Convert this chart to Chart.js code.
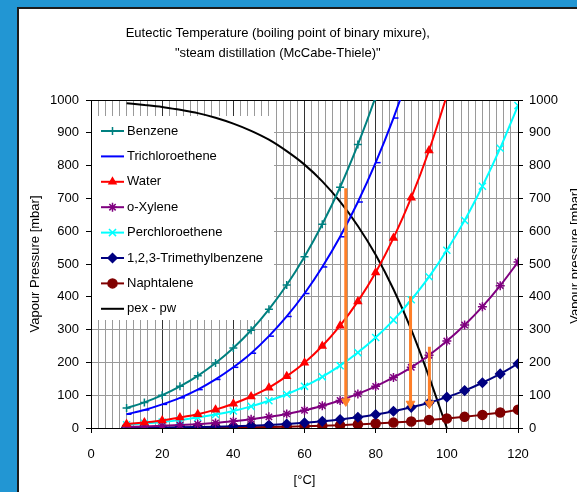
<!DOCTYPE html>
<html>
<head>
<meta charset="utf-8">
<script src="https://cdn.jsdelivr.net/npm/chart.js@4"></script>
<style>
  html, body { margin: 0; padding: 0; overflow: hidden; background: #2296d3; width: 577px; height: 492px; }
  #panel { position: absolute; left: 17px; top: 7px; width: 600px; height: 500px; background: #fff;
           border-left: 2px solid #1c1c1c; border-top: 2px solid #1c1c1c; }
  #myChart { position: absolute; left: -28px; top: 0; }
</style>
</head>
<body>
<div id="panel"></div>
<canvas id="myChart" width="620" height="492"></canvas>
<script>
// temperature [°C], one reading every 5 degrees
var temps = [10, 15, 20, 25, 30, 35, 40, 45, 50, 55, 60, 65, 70, 75, 80, 85, 90, 95, 100, 105, 110, 115, 120];

// vapour pressures [mbar]
var benzene = [61, 78, 100, 127, 159, 198, 244, 298, 362, 436, 522, 621, 734, 864, 1010, 1175];
var trichloroethene = [42, 55, 72, 92, 117, 148, 185, 228, 280, 340, 410, 491, 583, 689, 809, 945, 1097];
var water = [12, 17, 23, 32, 42, 56, 74, 96, 123, 158, 199, 250, 312, 386, 474, 579, 702, 846, 1013];
var oXylene = [3.4, 4.7, 6.5, 8.8, 11.8, 15.6, 20.5, 26.5, 34, 43, 54, 68, 84, 104, 127, 154, 185, 222, 265, 314, 370, 434, 506];
var perchloroethene = [10, 14, 18, 24, 32, 41, 52, 66, 83, 103, 127, 156, 190, 230, 276, 329, 391, 461, 542, 633, 737, 853, 983];
var trimethylbenzene = [0.7, 1.0, 1.4, 2.0, 2.8, 3.8, 5.2, 7.0, 9.2, 12.1, 15.8, 20.3, 25.9, 32.7, 41, 51, 63, 77, 94, 114, 138, 165, 196];
var naphtalene = [0.1, 0.2, 0.3, 0.5, 0.7, 1.1, 1.5, 2.1, 2.9, 3.9, 5.1, 6.7, 8.6, 11, 13.5, 16.5, 20, 24.5, 29, 34, 40, 47, 56];
var pexMinusPw = [990, 985, 979, 970, 960, 946, 928, 906, 879, 844, 803, 752, 690, 616, 528, 423, 300, 156, 0];

// orange arrows (eutectic points)
var arrowX = [71.6, 89.8, 95.1];
var arrowTop = [731, 402, 248];
var arrowBottom = [81, 74, 74];

function pts(values) {
  return values.map(function (v, i) { return { x: temps[i], y: v }; });
}

function series(label, values, color, style, radius, filled) {
  return {
    label: label,
    data: pts(values),
    borderColor: color,
    backgroundColor: filled ? color : 'rgba(0,0,0,0)',
    borderWidth: 2,
    pointStyle: style,
    pointRadius: radius,
    pointBorderWidth: 1.5,
    pointBorderColor: color,
    pointBackgroundColor: filled ? color : 'rgba(0,0,0,0)',
    cubicInterpolationMode: 'monotone',
    fill: false
  };
}

function arrow(i) {
  return {
    label: 'arrow',
    noLegend: true,
    data: [{ x: arrowX[i], y: arrowTop[i] }, { x: arrowX[i], y: arrowBottom[i] }],
    borderColor: '#ff7f27',
    backgroundColor: '#ff7f27',
    borderWidth: 3,
    pointStyle: 'triangle',
    pointRadius: [0, 5],
    pointRotation: 180,
    pointBorderWidth: 1,
    pointBorderColor: '#ff7f27',
    pointBackgroundColor: '#ff7f27',
    tension: 0
  };
}

Chart.defaults.font.family = 'Arial, "Liberation Sans", sans-serif';
Chart.defaults.font.size = 13;
Chart.defaults.color = '#000';

// legend drawn as a white box inside the plot, like the spreadsheet one
var legendBox = {
  id: 'legendBox',
  beforeDatasetsDraw: function (chart) {
    var ctx = chart.ctx;
    var left = chart.chartArea.left;
    ctx.save();
    ctx.fillStyle = '#fff';
    ctx.fillRect(left + 1, 116, 182, 204);
    var y = 131;
    chart.data.datasets.forEach(function (ds) {
      if (ds.noLegend) return;
      ctx.strokeStyle = ds.borderColor;
      ctx.lineWidth = 2;
      ctx.beginPath();
      ctx.moveTo(left + 10, y);
      ctx.lineTo(left + 33, y);
      ctx.stroke();
      if (ds.pointRadius > 0 && ds.pointStyle !== 'dash') {
        ctx.fillStyle = ds.pointBackgroundColor;
        ctx.strokeStyle = ds.pointBorderColor;
        ctx.lineWidth = 1.5;
        Chart.helpers.drawPoint(ctx, { pointStyle: ds.pointStyle, radius: ds.pointRadius, rotation: 0, borderWidth: 1.5 }, left + 21.5, y);
      }
      ctx.fillStyle = '#000';
      ctx.font = '13px Arial, "Liberation Sans", sans-serif';
      ctx.textBaseline = 'middle';
      ctx.textAlign = 'left';
      ctx.fillText(ds.label, left + 36, y);
      y += 25.4;
    });
    ctx.restore();
  }
};

// right axis title reads bottom-to-top, as in the spreadsheet, and runs off the page edge
var rightTitle = {
  id: 'rightTitle',
  afterDraw: function (chart) {
    var ctx = chart.ctx;
    var s = chart.scales.y2;
    ctx.save();
    ctx.translate(s.right - 8.5, (chart.chartArea.top + chart.chartArea.bottom) / 2 - 8);
    ctx.rotate(-Math.PI / 2);
    ctx.fillStyle = '#000';
    ctx.font = '13px Arial, "Liberation Sans", sans-serif';
    ctx.textAlign = 'center';
    ctx.textBaseline = 'middle';
    ctx.fillText('Vapour pressure [mbar]', 0, 0);
    ctx.restore();
  }
};

var plainTick = function (v) { return String(v); };

var ctx = document.getElementById('myChart');
var myChart = new Chart(ctx, {
  type: 'line',
  data: {
    // Chart.js paints the first dataset last, so the arrows go first to sit on top
    datasets: [
      arrow(0),
      arrow(1),
      arrow(2),
      series('Benzene', benzene, '#008080', 'cross', 4, false),
      series('Trichloroethene', trichloroethene, '#0000ff', 'dash', 5, false),
      series('Water', water, '#ff0000', 'triangle', 4, true),
      series('o-Xylene', oXylene, '#800080', 'star', 4.5, false),
      series('Perchloroethene', perchloroethene, '#00ffff', 'crossRot', 5, false),
      series('1,2,3-Trimethylbenzene', trimethylbenzene, '#000080', 'rectRot', 4.5, true),
      series('Naphtalene', naphtalene, '#800000', 'circle', 4.5, true),
      series('pex - pw', pexMinusPw, '#000000', 'circle', 0, false)
    ]
  },
  options: {
    responsive: false,
    animation: false,
    devicePixelRatio: 1,
    layout: {
      padding: { left: 0, right: 8.5, top: 0, bottom: 0 }
    },
    plugins: {
      legend: { display: false },
      tooltip: { enabled: false },
      title: {
        display: true,
        text: ['Eutectic Temperature (boiling point of binary mixure),', '"steam distillation (McCabe-Thiele)"'],
        font: { size: 13, weight: 'normal', lineHeight: '20px' },
        color: '#000',
        padding: { top: 23.3, bottom: 36.7 }
      }
    },
    scales: {
      x: {
        type: 'linear',
        min: 0,
        max: 120,
        ticks: {
          stepSize: 2,
          autoSkip: false,
          maxRotation: 0,
          padding: 14,
          callback: function (v) { return v % 20 === 0 ? String(v) : ''; }
        },
        grid: {
          color: function (c) { return c.tick && c.tick.value % 20 === 0 ? '#333' : '#9a9a9a'; },
          tickColor: function (c) { return c.tick && c.tick.value % 20 === 0 ? '#000' : 'rgba(0,0,0,0)'; },
          tickLength: 5
        },
        border: { color: '#000', width: 1 },
        title: { display: true, text: '[°C]', padding: { top: 0, bottom: 4 } },
        afterFit: function (scale) { scale.height = 64; }
      },
      y: {
        position: 'left',
        min: 0,
        max: 1000,
        ticks: { stepSize: 100, padding: 7, callback: plainTick },
        grid: {
          color: function (c) { return c.tick && c.tick.value === 1000 ? '#000' : '#9a9a9a'; },
          tickColor: '#000',
          tickLength: 5
        },
        border: { color: '#000', width: 1 },
        title: { display: true, text: 'Vapour Pressure [mbar]', padding: { top: 55.2, bottom: 0 } },
        afterFit: function (scale) { scale.width = 119; }
      },
      y2: {
        position: 'right',
        min: 0,
        max: 1000,
        ticks: { stepSize: 100, padding: 6, callback: plainTick },
        grid: { drawOnChartArea: false, tickColor: '#000', tickLength: 5 },
        border: { color: '#000', width: 1 },
        title: { display: false },
        afterFit: function (scale) { scale.width = 65.5; }
      }
    }
  },
  plugins: [legendBox, rightTitle]
});
</script>
</body>
</html>
